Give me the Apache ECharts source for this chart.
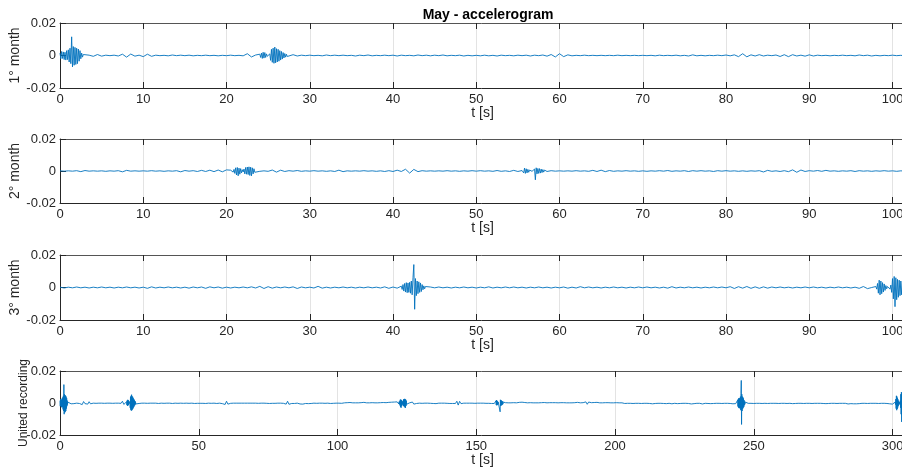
<!DOCTYPE html>
<html>
<head>
<meta charset="utf-8">
<script src="https://cdn.jsdelivr.net/npm/echarts@6/dist/echarts.min.js"></script>
<style>
html,body{margin:0;padding:0;background:#fff;}
#chart{width:902px;height:474px;}
</style>
</head>
<body>
<div id="chart"></div>
<script>
// ---------------- DATA ----------------
const TITLE = 'May - accelerogram';
const yLabels = ['1° month', '2° month', '3° month', 'United recording'];
const xLabel = 't [s]';
const REC_LEN = 101.5;        // seconds in each monthly record
const UNITED_LEN = 304.5;     // seconds in united recording
const BASE_STEP = 0.5;        // s between baseline samples
const BURST_STEP = 0.1;       // s between samples inside bursts
const UNIT = 1e-4;            // values below are in 1e-4 units
const xTicksMonth = [0, 10, 20, 30, 40, 50, 60, 70, 80, 90, 100];
const xTicksUnited = [0, 50, 100, 150, 200, 250, 300];
const yTicks = [-0.02, 0, 0.02];

// 1st month: baseline samples (0 .. 101.5 s, every 0.5 s)
const rec1Base = [
  0,0,0,0,0,0,0,2,-5,6,
  -4,2,-1,2,-3,8,-10,9,-4,2,
  -7,8,-5,2,-1,1,-2,3,-1,2,
  -1,2,-2,1,-1,2,-1,1,-2,1,
  -1,2,-1,1,-2,11,-9,3,0,0,
  0,0,0,0,0,-6,5,-3,2,-1,
  2,-1,1,-2,3,-1,2,-1,2,-1,
  1,-3,2,-1,3,-2,1,-1,2,-1,
  2,-3,2,-1,1,-2,3,-1,2,-2,
  2,-1,3,-2,1,-1,2,-3,1,-2,
  1,-2,2,-2,1,-3,2,-1,1,-2,
  2,-1,2,-3,2,-1,3,-4,6,-9,
  11,-7,4,-2,1,-1,2,-1,1,-1,
  1,-1,1,-1,2,-1,1,-1,1,-1,
  1,-1,1,-2,2,-1,1,-1,2,-2,
  1,-3,4,-2,1,-2,1,-1,2,-1,
  3,-2,4,-7,11,-8,4,-3,5,-3,
  2,-1,3,-6,5,-7,5,-3,2,-4,
  4,-3,2,-1,1,-2,1,-1,2,-1,
  1,-2,3,-1,2,-3,1,-2,1,-1,
  2,-1,1,-2
];
const rec1BurstStarts = [0, 24];
const rec1BurstA = [15,-20,25,-18,22,-25,20,-28,30,-25,35,-40,45,-50,115,-70,55,-60,50,-55,45,-50,40,-35,30,-20,15,-10,6,-4,3];
const rec1BurstB = [8,-12,15,-18,20,-16,18,-12,10,-5,4,-3,10,-30,38,-42,45,-48,52,-45,42,-40,38,-35,30,-28,25,-22,18,-15,12,-10,8,-6,5,-4];

// 2nd month
const rec2Base = [
  1,-1,1,-1,2,-4,3,-1,1,-1,
  1,-2,1,-1,2,-5,4,-1,1,-1,
  1,-1,2,-1,1,-2,1,-1,2,-5,
  3,-1,2,-3,4,-3,5,-4,6,-5,
  7,0,0,0,0,0,0,0,-2,1,
  -2,6,-7,5,-3,2,-1,3,-2,1,
  -1,2,-1,1,-2,1,-3,5,-4,1,
  -1,1,-1,2,-1,1,-2,1,-3,2,
  -3,5,-3,11,-13,10,-4,2,-1,1,
  -1,1,-1,2,-1,1,-2,1,-1,2,
  -1,2,-1,1,-2,3,-2,1,-3,4,
  -3,0,0,0,0,0,0,0,2,-1,
  1,-1,1,-1,2,-1,1,-2,4,-3,
  5,-4,3,-2,1,-1,2,-1,1,-2,
  1,-2,1,-1,2,-1,3,-2,1,-1,
  2,-3,2,-1,2,-1,1,-3,2,-1,
  2,-1,1,-2,1,-2,1,-1,2,-6,
  4,-2,1,-3,2,-4,7,-8,6,-3,
  2,-1,3,-2,4,-1,1,-2,1,-1,
  2,-3,2,-1,1,-2,1,-1,2,-1,
  1,-2,1,-1
];
const rec2BurstStarts = [20.5, 55.5];
const rec2BurstA = [5,-6,8,-7,10,-15,20,-25,22,-30,18,-20,15,-12,8,-6,12,-18,22,-20,25,-22,26,-28,24,-30,20,-18,14,-8,4];
const rec2BurstB = [3,14,-12,18,-15,14,-12,10,-8,6,-4,3,-2,3,-3,12,-55,20,-18,16,-15,15,-13,12,-10,9,-7,6,-4,3,-3];

// 3rd month
const rec3Base = [
  2,-3,2,-2,3,-2,2,-3,2,-2,
  3,-2,2,-3,2,-2,3,-2,2,-3,
  2,-5,4,-3,2,-2,3,-2,2,-3,
  2,-4,3,-2,3,-5,4,-2,3,-4,
  2,-3,2,-2,3,-2,4,-3,7,-6,
  5,-4,3,-2,3,-2,4,-6,3,-2,
  2,-3,7,-4,2,-3,2,-2,3,-2,
  2,-3,2,-2,3,-2,2,-3,4,-5,
  3,-4,0,0,0,0,0,0,0,3,
  -2,3,-2,2,-3,2,-2,3,-2,2,
  -3,2,-2,4,-3,2,-2,3,-2,3,
  -2,2,-3,2,-2,3,-2,2,-3,2,
  -2,3,-4,2,-3,5,-2,3,-2,2,
  -3,2,-2,3,-2,2,-3,2,-2,3,
  -2,3,-2,2,-3,2,-4,5,-3,2,
  -2,3,-2,2,-3,2,-2,3,-2,3,
  -2,5,-6,5,-4,6,-5,4,-5,4,
  -4,3,-2,3,-2,2,-3,2,-2,3,
  -2,3,-2,2,-3,2,-2,3,-2,2,
  -3,2,-5,6,-7,0,0,0,0,0,
  0,0,0,0
];
const rec3BurstStarts = [41, 98];
const rec3BurstA = [8,-12,18,-22,25,-28,30,-32,28,-30,32,-35,40,-45,60,141,-134,55,-50,40,-38,35,-30,28,-25,18,-14,10,-8,6,-5];
const rec3BurstB = [6,-10,25,-35,45,-45,40,-38,30,-28,22,-18,12,-8,6,-5,8,-10,15,-30,55,-70,68,-118,60,-75,50,-60,45,-50,40,-45,35,-40,30,-30];

// ---------------- BUILD ----------------
function buildRecord(base, starts, bursts) {
  const spans = bursts.map((b, k) => [starts[k], starts[k] + (b.length - 1) * BURST_STEP]);
  const pts = [];
  base.forEach((v, i) => {
    const t = +(i * BASE_STEP).toFixed(3);
    if (!spans.some(s => t >= s[0] - 1e-9 && t <= s[1] + 1e-9)) pts.push([t, v * UNIT]);
  });
  bursts.forEach((b, k) => b.forEach((v, i) => pts.push([+(starts[k] + i * BURST_STEP).toFixed(3), v * UNIT])));
  pts.sort((a, b) => a[0] - b[0]);
  return pts;
}
const rec1 = buildRecord(rec1Base, rec1BurstStarts, [rec1BurstA, rec1BurstB]);
const rec2 = buildRecord(rec2Base, rec2BurstStarts, [rec2BurstA, rec2BurstB]);
const rec3 = buildRecord(rec3Base, rec3BurstStarts, [rec3BurstA, rec3BurstB]);
const united = [].concat(
  rec1,
  rec2.map(p => [+(p[0] + REC_LEN).toFixed(3), p[1]]),
  rec3.map(p => [+(p[0] + 2 * REC_LEN).toFixed(3), p[1]])
);
const records = [rec1, rec2, rec3, united];

// ---------------- CHART ----------------
const FONT = '"Liberation Sans", Arial, Helvetica, sans-serif';
const AX = '#262626';
const GRIDC = '#e3e3e3';
const gridPos = [
  {top: 23, height: 65},
  {top: 139, height: 64},
  {top: 255, height: 65},
  {top: 371, height: 64}
];
const grid = gridPos.map(g => ({left: 60, width: 845, top: g.top, height: g.height,
  containLabel: false, outerBoundsMode: 'none'}));
const xAxis = [], yAxis = [], series = [];
records.forEach((data, i) => {
  const isUnited = i === 3;
  const ticks = isUnited ? xTicksUnited : xTicksMonth;
  const xmax = isUnited ? UNITED_LEN : REC_LEN;
  const interval = ticks[1] - ticks[0];
  xAxis.push({
    type: 'value', gridIndex: i, position: 'bottom', min: ticks[0], max: xmax, interval: interval,
    name: xLabel, nameLocation: 'middle', nameGap: 18, nameMoveOverlap: false,
    nameTextStyle: {fontFamily: FONT, fontSize: 14, color: AX},
    axisLine: {show: true, onZero: false, lineStyle: {color: AX, width: 1}},
    axisTick: {show: true, inside: true, length: 6, lineStyle: {color: AX}},
    axisLabel: {show: true, margin: 5, fontFamily: FONT, fontSize: 13, color: AX, showMaxLabel: false},
    splitLine: {show: true, lineStyle: {color: GRIDC, width: 1}}
  });
  xAxis.push({
    type: 'value', gridIndex: i, position: 'top', min: ticks[0], max: xmax, interval: interval,
    axisLine: {show: true, onZero: false, lineStyle: {color: '#555555', width: 1}},
    axisTick: {show: true, inside: true, length: 6, lineStyle: {color: AX}},
    axisLabel: {show: false},
    splitLine: {show: false}
  });
  yAxis.push({
    type: 'value', gridIndex: i, min: yTicks[0], max: yTicks[2], interval: yTicks[1] - yTicks[0],
    name: yLabels[i], nameLocation: 'middle', nameRotate: 90, nameGap: isUnited ? 30 : 38,
    nameMoveOverlap: false,
    nameTextStyle: {fontFamily: FONT, fontSize: isUnited ? 12 : 14, color: AX},
    axisLine: {show: true, onZero: false, lineStyle: {color: AX, width: 1}},
    axisTick: {show: true, inside: true, length: 6, lineStyle: {color: AX}},
    axisLabel: {show: true, margin: 4, fontFamily: FONT, fontSize: 13, color: AX,
      formatter: v => (Math.abs(v) < 1e-12 ? '0' : String(+v.toFixed(4)))},
    splitLine: {show: false}
  });
  series.push({
    type: 'line', xAxisIndex: 2 * i, yAxisIndex: i, data: data,
    showSymbol: false, symbol: 'none', silent: true,
    lineStyle: {color: '#0072BD', width: 0.9}, clip: true, z: 3
  });
});

const chart = echarts.init(document.getElementById('chart'), null, {renderer: 'canvas'});
chart.setOption({
  animation: false,
  backgroundColor: '#ffffff',
  title: {text: TITLE, left: 483, top: 3, textAlign: 'center',
    textStyle: {fontFamily: FONT, fontSize: 14, fontWeight: 'bold', color: '#000'}},
  grid: grid,
  xAxis: xAxis,
  yAxis: yAxis,
  series: series
});
</script>
</body>
</html>
